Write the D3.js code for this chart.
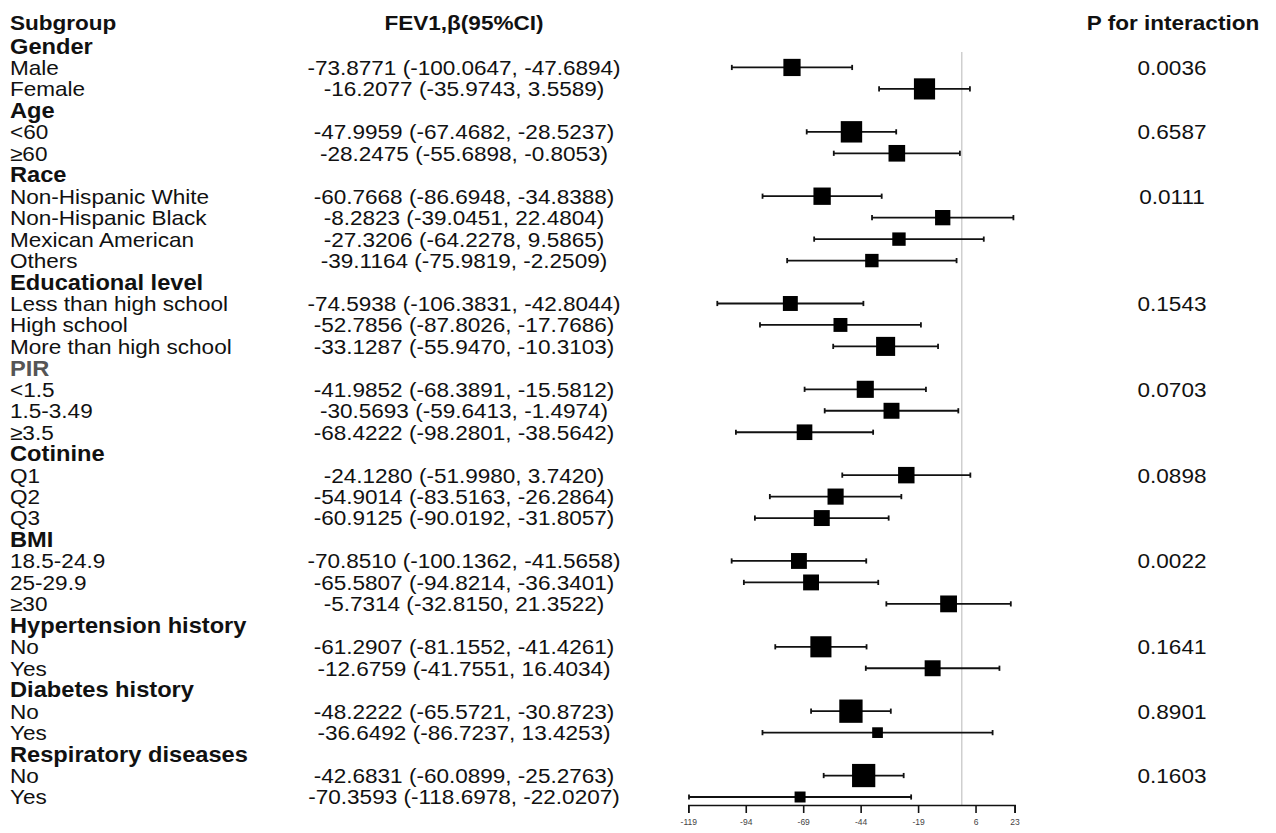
<!DOCTYPE html>
<html>
<head>
<meta charset="utf-8">
<script src="https://cdn.jsdelivr.net/npm/d3@7"></script>
<style>
  body { margin: 0; background: #fff; }
  text { font-family: "Liberation Sans", Arial, sans-serif; fill: #111; }
  .hdr { font-weight: bold; }
  .axis text { font-size: 8.5px; fill: #444; }
  .axis path, .axis line { stroke: #111; stroke-width: 1.6; }
</style>
</head>
<body>
<script>
// data
var groups = ["Gender", "Age", "Race", "Educational level", "PIR", "Cotinine", "BMI",
              "Hypertension history", "Diabetes history", "Respiratory diseases"];
var groupSize = [2, 2, 4, 3, 3, 3, 3, 2, 2, 2];
var subgroups = ["Male", "Female", "<60", "≥60",
                 "Non-Hispanic White", "Non-Hispanic Black", "Mexican American", "Others",
                 "Less than high school", "High school", "More than high school",
                 "<1.5", "1.5-3.49", "≥3.5", "Q1", "Q2", "Q3",
                 "18.5-24.9", "25-29.9", "≥30", "No", "Yes", "No", "Yes", "No", "Yes"];
var beta  = [-73.8771, -16.2077, -47.9959, -28.2475, -60.7668, -8.2823, -27.3206, -39.1164,
             -74.5938, -52.7856, -33.1287, -41.9852, -30.5693, -68.4222, -24.1280, -54.9014,
             -60.9125, -70.8510, -65.5807, -5.7314, -61.2907, -12.6759, -48.2222, -36.6492,
             -42.6831, -70.3593];
var lower = [-100.0647, -35.9743, -67.4682, -55.6898, -86.6948, -39.0451, -64.2278, -75.9819,
             -106.3831, -87.8026, -55.9470, -68.3891, -59.6413, -98.2801, -51.9980, -83.5163,
             -90.0192, -100.1362, -94.8214, -32.8150, -81.1552, -41.7551, -65.5721, -86.7237,
             -60.0899, -118.6978];
var upper = [-47.6894, 3.5589, -28.5237, -0.8053, -34.8388, 22.4804, 9.5865, -2.2509,
             -42.8044, -17.7686, -10.3103, -15.5812, -1.4974, -38.5642, 3.7420, -26.2864,
             -31.8057, -41.5658, -36.3401, 21.3522, -41.4261, 16.4034, -30.8723, 13.4253,
             -25.2763, -22.0207];
var pInteraction = ["0.0036", "0.6587", "0.0111", "0.1543", "0.0703",
                    "0.0898", "0.0022", "0.1641", "0.8901", "0.1603"];
var xTicks = [-119, -94, -69, -44, -19, 6, 23];

// build rows: one header row per group, then its subgroups
var rows = [];
var k = 0;
groups.forEach(function(g, gi) {
  rows.push({type: "group", label: g});
  for (var j = 0; j < groupSize[gi]; j++) {
    rows.push({type: "sub", label: subgroups[k], est: beta[k], lo: lower[k], hi: upper[k],
               p: j === 0 ? pInteraction[gi] : ""});
    k++;
  }
});

var W = 1276, H = 833;
var svg = d3.select("body").append("svg")
  .attr("width", W).attr("height", H);

var y = d3.scalePoint()
  .domain(d3.range(rows.length))
  .range([46, 797]);
var step = y.step();

var x = d3.scaleLinear()
  .domain([-119, 23])
  .range([688.3, 1014.6]);

// box size shrinks with CI width
var boxSize = d3.scalePow().exponent(-0.735)
  .domain([34.7, 100.1])
  .range([23.3, 10.7]);

// plain hyphen instead of the unicode minus
var f4 = d3.format(".4f");
var fmt = function(v) { return f4(v).replace("\u2212", "-"); };
var sx = 1.1;   // text in the source is a bit stretched sideways

function addText(g, tx, ty, str, cls, anchor, size, fill) {
  var t = g.append("text")
    .attr("transform", "translate(" + tx + "," + ty + ") scale(" + sx + ",1)")
    .attr("dy", "0.36em")
    .attr("text-anchor", anchor)
    .style("font-size", size + "px")
    .text(str);
  if (cls) t.attr("class", cls);
  if (fill) t.style("fill", fill);
  return t;
}

// column headers
var yHead = y(0) - step - 2;
addText(svg, 10, yHead, "Subgroup", "hdr", "start", 20.5);
addText(svg, 464, yHead, "FEV1,β(95%CI)", "hdr", "middle", 20.5);
addText(svg, 1173, yHead, "P for interaction", "hdr", "middle", 20.5);

// reference line at 0
svg.append("line")
  .attr("x1", x(0)).attr("x2", x(0))
  .attr("y1", 52).attr("y2", 805)
  .style("stroke", "#cfcfcf").style("stroke-width", 1.5);

// table text
var tbl = svg.append("g");
rows.forEach(function(r, i) {
  if (r.type === "group") {
    addText(tbl, 10, y(i), r.label, "hdr", "start", 21.5, r.label === "PIR" ? "#555" : null);
  } else {
    addText(tbl, 10, y(i), r.label, null, "start", 20.5);
    addText(tbl, 464, y(i), fmt(r.est) + " (" + fmt(r.lo) + ", " + fmt(r.hi) + ")", null, "middle", 20.5);
    if (r.p) addText(tbl, 1172, y(i), r.p, null, "middle", 20.5);
  }
});

// CI lines, caps and boxes
var subs = rows.map(function(r, i) { r.i = i; return r; })
  .filter(function(r) { return r.type === "sub"; });

var ci = svg.append("g");
ci.selectAll("line.ci")
  .data(subs).enter().append("line")
  .attr("x1", function(d) { return x(d.lo); })
  .attr("x2", function(d) { return x(d.hi); })
  .attr("y1", function(d) { return y(d.i); })
  .attr("y2", function(d) { return y(d.i); })
  .style("stroke", "#111").style("stroke-width", 1.8);

["lo", "hi"].forEach(function(end) {
  ci.selectAll("line.cap-" + end)
    .data(subs).enter().append("line")
    .attr("class", "cap-" + end)
    .attr("x1", function(d) { return x(d[end]); })
    .attr("x2", function(d) { return x(d[end]); })
    .attr("y1", function(d) { return y(d.i) - 2.6; })
    .attr("y2", function(d) { return y(d.i) + 2.6; })
    .style("stroke", "#111").style("stroke-width", 1.8);
});

ci.selectAll("rect")
  .data(subs).enter().append("rect")
  .attr("x", function(d) { return x(d.est) - boxSize(d.hi - d.lo) / 2; })
  .attr("y", function(d) { return y(d.i) - boxSize(d.hi - d.lo) / 2; })
  .attr("width", function(d) { return boxSize(d.hi - d.lo); })
  .attr("height", function(d) { return boxSize(d.hi - d.lo); })
  .style("fill", "#000");

// axis
var xAxis = d3.axisBottom(x)
  .tickValues(xTicks)
  .tickSize(8)
  .tickSizeOuter(8)
  .tickPadding(6)
  .tickFormat(function(d) { return fmt(d).replace(".0000", ""); });

svg.append("g")
  .attr("class", "axis")
  .attr("transform", "translate(0,805)")
  .call(xAxis);
</script>
</body>
</html>
